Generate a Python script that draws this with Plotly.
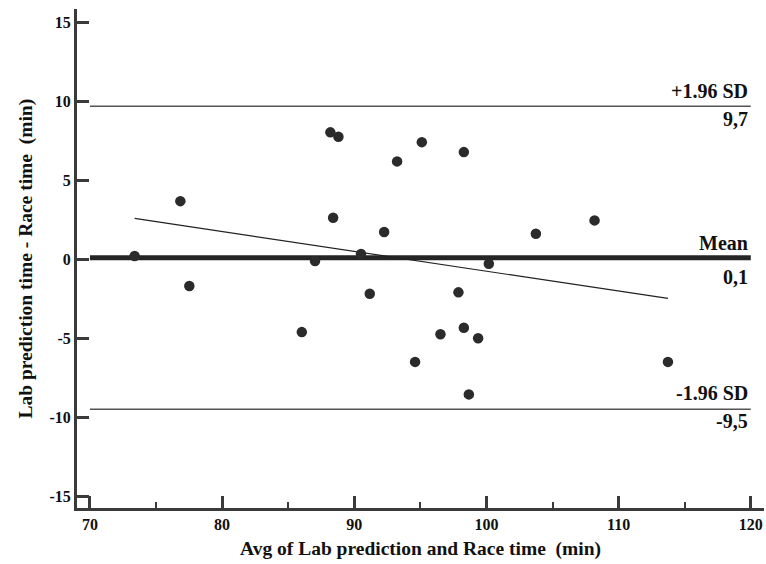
import numpy as np
import plotly.graph_objects as go

# Bland-Altman data: average of the two methods vs. their difference (min)
avg_time = [73.38, 76.84, 77.52, 86.03, 87.03, 88.19, 88.40, 88.80, 90.51, 91.17,
            92.26, 93.24, 94.60, 95.11, 96.52, 97.88, 98.29, 98.29, 98.67, 99.37,
            100.18, 103.74, 108.18, 113.73]
diff_time = [0.21, 3.69, -1.69, -4.61, -0.11, 8.05, 2.64, 7.77, 0.34, -2.18,
             1.73, 6.21, -6.50, 7.43, -4.75, -2.09, 6.80, -4.33, -8.56, -5.00,
             -0.28, 1.62, 2.47, -6.50]

# Summary statistics shown on the chart
mean_diff = 0.1
upper_loa = 9.7
lower_loa = -9.5
ref_span = [70, 120]

x_ticks = [70, 80, 90, 100, 110, 120]
y_ticks = [-15, -10, -5, 0, 5, 10, 15]

FONT = "Liberation Serif, serif"
INK = "#2b2b2b"
AXIS = "#3a3a3a"

# least-squares trend of the differences across the measured range
slope, intercept = np.polyfit(avg_time, diff_time, 1)
trend_x = [min(avg_time), max(avg_time)]
trend_y = [intercept + slope * v for v in trend_x]

fig = go.Figure()

fig.add_trace(go.Scatter(x=ref_span, y=[upper_loa, upper_loa], mode="lines",
                         line=dict(color="#555555", width=1.5), hoverinfo="skip"))
fig.add_trace(go.Scatter(x=ref_span, y=[lower_loa, lower_loa], mode="lines",
                         line=dict(color="#555555", width=1.5), hoverinfo="skip"))
fig.add_trace(go.Scatter(x=ref_span, y=[mean_diff, mean_diff], mode="lines",
                         line=dict(color="#252525", width=5), hoverinfo="skip"))
fig.add_trace(go.Scatter(x=trend_x, y=trend_y, mode="lines",
                         line=dict(color="#222222", width=1.2), hoverinfo="skip"))
fig.add_trace(go.Scatter(x=avg_time, y=diff_time, mode="markers",
                         marker=dict(color=INK, size=10.5, line=dict(width=0))))

label_font = dict(family=FONT, size=20, color="#111111")
labels = [
    ("+1.96 SD", upper_loa, 15),
    (f"{upper_loa:.1f}".replace(".", ","), upper_loa, -13),
    ("Mean", mean_diff, 15),
    (f"{mean_diff:.1f}".replace(".", ","), mean_diff, -19),
    ("-1.96 SD", lower_loa, 16),
    (f"{lower_loa:.1f}".replace(".", ","), lower_loa, -12),
]
for text, yv, shift in labels:
    fig.add_annotation(x=ref_span[1], y=yv, text=f"<b>{text}</b>", showarrow=False,
                       xanchor="right", yanchor="middle", yshift=shift, xshift=-1,
                       font=label_font)

title_font = dict(family=FONT, size=19.5, color="#111111")
fig.add_annotation(xref="paper", yref="paper", x=0.5, y=0, yshift=-41,
                   text="<b>Avg of Lab prediction and Race time  (min)</b>",
                   showarrow=False, xanchor="center", yanchor="middle", font=title_font)
fig.add_annotation(xref="paper", yref="paper", x=0, y=0.5, xshift=-52,
                   text="<b>Lab prediction time - Race time  (min)</b>", textangle=-90,
                   showarrow=False, xanchor="center", yanchor="middle", font=title_font)

tick_font = dict(family=FONT, size=16, color="#111111")
fig.update_layout(
    width=766, height=564,
    margin=dict(l=77, r=2, t=9, b=56),
    paper_bgcolor="white", plot_bgcolor="white",
    showlegend=False,
    xaxis=dict(range=[69.02, 121.0], tickvals=x_ticks,
               ticktext=[f"<b>{v}</b>" for v in x_ticks],
               ticks="inside", ticklen=12, tickwidth=3, tickcolor=AXIS,
               minor=dict(dtick=5, ticks="inside", ticklen=6, tickwidth=1.5, tickcolor=AXIS),
               showline=True, linewidth=3, linecolor=AXIS,
               showgrid=False, zeroline=False, tickfont=tick_font),
    yaxis=dict(range=[-15.76, 15.87], tickvals=y_ticks,
               ticktext=[f"<b>{v}</b>" for v in y_ticks],
               ticks="inside", ticklen=12, tickwidth=3, tickcolor=AXIS,
               showline=True, linewidth=3, linecolor=AXIS,
               showgrid=False, zeroline=False, tickfont=tick_font),
)

fig.write_html("out.html")
